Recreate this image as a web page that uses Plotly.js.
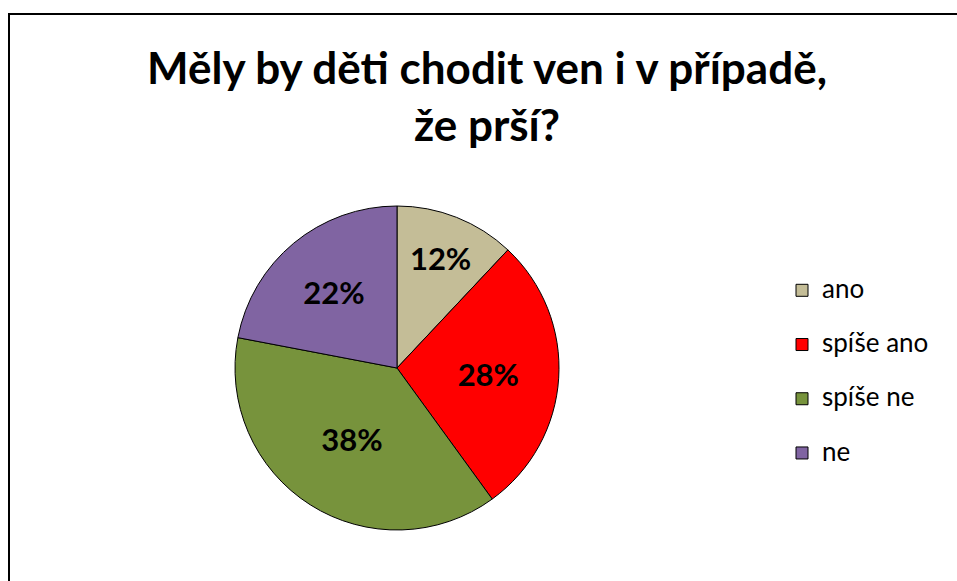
<!DOCTYPE html>
<html><head><meta charset="utf-8">
<script src="https://cdn.plot.ly/plotly-3.0.1.min.js"></script>
<style>
html,body{margin:0;padding:0;background:#fff;overflow:hidden}
#frame{position:absolute;left:8px;top:13px;width:1000px;height:700px;border:2px solid #000;box-sizing:border-box;pointer-events:none;z-index:5}
#chart{position:absolute;left:0;top:0;width:957px;height:581px}
</style></head>
<body>
<div id="chart"></div>
<div id="frame"></div>
<script>
const categories = ["ano", "spíše ano", "spíše ne", "ne"];
const shares = [12, 28, 38, 22];
const sliceColors = ["#C4BD97", "#FF0000", "#77933C", "#8064A2"];
const titleText = "Měly by děti chodit ven i v případě,<br>že prší?";

const W = 957, H = 581;
const cx = 397, cy = 368, r = 162;

// legend entries: larger text, extra line gives the wide row spacing of the original
const legendLabels = categories.map(c => "<span style='font-size:26px'>" + c + "</span><br> ");

const trace = {
  type: "pie",
  labels: legendLabels,
  values: shares,
  customdata: categories,
  sort: false,
  direction: "clockwise",
  rotation: 0,
  marker: {colors: sliceColors, line: {color: "#000", width: 1}},
  textinfo: "percent",
  textposition: "inside",
  insidetextorientation: "horizontal",
  textfont: {family: "Lato, 'Open Sans', sans-serif", size: 31, color: "#000", weight: "bold"},
  domain: {x: [(cx - r) / W, (cx + r) / W], y: [1 - (cy + r) / H, 1 - (cy - r) / H]},
  hovertemplate: "%{customdata}: %{percent}<extra></extra>"
};

const layout = {
  width: W, height: H,
  margin: {l: 0, r: 0, t: 0, b: 0},
  paper_bgcolor: "#fff",
  title: {
    text: titleText,
    font: {family: "Lato, 'Open Sans', sans-serif", size: 44, color: "#000", weight: "bold"},
    x: 487 / W, xanchor: "center",
    y: 1 - 84 / H, yanchor: "top"
  },
  showlegend: true,
  legend: {
    x: 782 / W, xanchor: "left",
    y: 1 - 271 / H, yanchor: "top",
    font: {family: "Lato, 'Open Sans', sans-serif", size: 19.7, color: "#000"},
    bgcolor: "rgba(0,0,0,0)",
    valign: "top",
    tracegroupgap: 0,
    itemwidth: 30
  }
};

Plotly.newPlot("chart", [trace], layout, {displayModeBar: false, staticPlot: true});
</script>
</body></html>
